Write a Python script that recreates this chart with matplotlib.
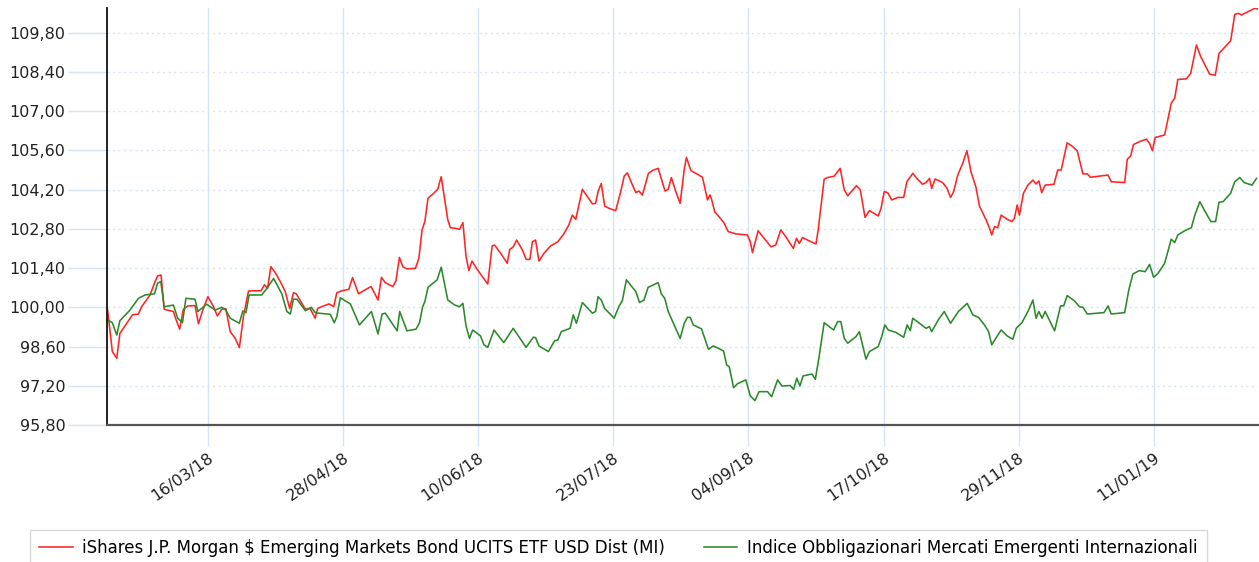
import numpy as np
import pandas as pd
import matplotlib
matplotlib.use("Agg")
import matplotlib.pyplot as plt
import matplotlib.dates as mdates
from matplotlib.ticker import FuncFormatter

# giorni dal 12/02/2018 e valori
start = pd.Timestamp("2018-02-12")

etf_days = [0.2, 1.7, 3.1, 4.1, 6.3, 8.1, 10, 11, 13.7, 15.3, 16.1, 17.2, 18.2, 21.1, 22.2, 23.1, 24.3, 25.7, 28, 29.1,
            30.4, 32.1, 33.9, 35.1, 36.5, 37.8, 39.2, 40.8, 42.1, 43.4, 45, 46.6, 49, 50.1, 51.1, 52.1, 53.5, 55.1, 56.7,
            58.1, 59.3, 60.2, 62, 63.1, 64.6, 66.2, 67, 68.9, 70.7, 72.1, 73.1, 74.7, 76.9, 78.1, 80, 81.6, 84, 86.2,
            87.3, 88.5, 90.9, 91.9, 93, 94.1, 95.4, 98.1, 99.2, 100.2, 101.1, 102.1, 103.9, 105.2, 106.3, 107.1, 108.4,
            109.2, 110.8, 112.1, 113.2, 114.2, 115.1, 116.1, 117.7,
            118.8, 121.1, 122.5, 123.3, 125.2, 127.3, 128.1, 129.1, 130.3, 132.1, 133.3, 134.5, 135.3, 136.3, 137.4,
            139, 141.1, 143.4, 145.3, 146.9, 148, 149.1, 151.2, 152.8, 154.4, 155.4, 156.2, 157.2, 158.3, 159.7, 161.8,
            163.4, 164.5, 165.5, 166.8, 168.2, 169.2, 170.3, 172.2, 173.5, 175.3, 177.5, 178.5, 179.5, 180.9, 182.3,
            183.6, 184.3, 185.7, 187.6, 189.4, 191, 191.8, 192.3, 193.3, 194.7, 196.3, 197.6, 200, 203.7, 204.6, 205.3,
            207.1, 209, 211.2, 212.7, 214.3, 215.9, 218.3, 219.3, 220.2, 221.2, 222.8, 225.5, 226.2, 228.1, 229.2,
            231.3, 233.2, 234.5, 235.6, 238.4, 239.6,
            241.1, 242.5, 244, 245.3, 246.2, 247.2, 248.3, 249.6, 251.5, 253.4, 254.4, 256.3, 257.8, 259.4, 260.5,
            261.6, 262.3, 263.4, 265.8, 267.2, 268.3, 269.3, 270.6, 272.2, 273.5, 274.8, 276.4, 277.5, 279.6, 280.7,
            281.4, 282.3, 283.3, 284.4, 286.3, 287.8, 288.6, 289.5, 290.2, 291.5, 292.9, 294.5, 295.5, 296.4, 297.3,
            298.4, 301.2, 302.4, 303.5, 305.4, 307.2, 308.6, 310.4, 311.8, 312.8, 318.4, 319.4, 323.7, 324.5, 325.6,
            326.5, 328.4, 330.6, 331.6, 332.5, 333.4, 336.4, 338.5, 339.6, 340.6, 343.3, 344.7, 346.5, 347.9, 350.7,
            352.5, 353.7, 355, 357.4, 358.7, 359.8, 360.8, 363.5, 365.1, 366]
etf_vals = [99.90, 98.42, 98.18, 99.07, 99.43, 99.73, 99.76, 100.02, 100.44, 100.92, 101.12, 101.15, 99.93, 99.85,
            99.49, 99.22, 99.93, 100.05, 100.06, 99.41, 99.88, 100.38, 100.02, 99.69, 99.93, 99.95, 99.13, 98.89, 98.56,
            99.67, 100.58, 100.59, 100.59, 100.80, 100.68, 101.45, 101.24, 100.92, 100.56, 99.96, 100.52, 100.48,
            100.14, 99.93, 99.96, 99.61, 99.96, 100.05, 100.12, 100.02, 100.52, 100.59, 100.64, 101.06, 100.48, 100.59,
            100.74, 100.26, 101.07, 100.88, 100.74, 100.94, 101.78, 101.45, 101.37, 101.39, 101.75, 102.76, 103.06,
            103.89, 104.07, 104.21, 104.66, 104.07, 103.12, 102.84, 102.82, 102.78, 103.02, 101.81, 101.31, 101.65,
            101.36,
            101.19, 100.83, 102.19, 102.22, 101.93, 101.57, 102.07, 102.14, 102.40, 102.05, 101.71, 101.71, 102.34,
            102.40, 101.65, 101.93, 102.19, 102.34, 102.62, 102.94, 103.29, 103.14, 104.21, 103.95, 103.69, 103.71,
            104.13, 104.42, 103.61, 103.53, 103.45, 104.13, 104.68, 104.80, 104.45, 104.09, 104.15, 104.00, 104.78,
            104.88, 104.96, 104.15, 104.21, 104.63, 104.13, 103.71, 104.92, 105.35, 104.88, 104.76, 104.64, 103.83,
            104.01, 103.85, 103.41, 103.23, 103.00, 102.70, 102.62, 102.58, 102.34, 101.95, 102.73, 102.46, 102.16,
            102.22, 102.76, 102.52, 102.10, 102.46, 102.28, 102.49, 102.40, 102.26, 102.76, 104.57, 104.63, 104.68,
            104.96, 104.19, 103.98, 104.34, 104.19,
            103.21, 103.45, 103.35, 103.26, 103.53, 104.13, 104.09, 103.83, 103.92, 103.92, 104.48, 104.78, 104.57,
            104.39, 104.45, 104.60, 104.24, 104.58, 104.45, 104.24, 103.92, 104.13, 104.72, 105.14, 105.59, 104.84,
            104.28, 103.61, 103.12, 102.82, 102.58, 102.88, 102.84, 103.29, 103.14, 103.06, 103.17, 103.65, 103.29,
            104.07, 104.36, 104.54, 104.40, 104.51, 104.09, 104.36, 104.39, 104.90, 104.90, 105.87, 105.73, 105.58,
            104.76, 104.76, 104.64, 104.72, 104.48, 104.45, 105.28, 105.40, 105.81, 105.91, 106.00, 105.85, 105.59,
            106.06, 106.15, 107.28, 107.46, 108.13, 108.15, 108.35, 109.36, 108.94, 108.32, 108.28, 109.06, 109.22,
            109.51, 110.45, 110.49, 110.43, 110.58, 110.67, 110.64]

idx_days = [0.2, 1.7, 3.1, 4.1, 7.3, 10, 12.1, 15.1, 16.1, 17.1, 18.2, 21.1, 22.5, 24, 25.1, 28, 28.9, 31.7, 34.4,
            36.5, 37.8, 39.2, 42.1, 43.2, 44.2, 45.2, 49.2, 50.9, 53, 55.6, 57.2, 58.3, 59.3, 60.4, 63.1, 65, 66.2,
            67.3, 71, 72.3, 73.1, 74.2, 77.4, 80.3, 84.1, 86.2, 87.5, 88.5, 92.3, 93.1, 95.4, 98.3, 99.4, 100.4, 101.1,
            102.1, 105, 106.3, 108.4, 110.6, 112.1, 113.2, 114.2, 115.3, 116.3,
            118.8, 119.9, 121.1, 123.1, 126.2, 129.2, 133.3, 135.6, 136.3, 137.4, 140.4, 142.4, 143.4, 144.5, 147.3,
            148.3, 149.3, 151.2, 154.4, 155.4, 156.2, 157.2, 158.3, 161.3, 162.9, 163.9, 165.2, 168.2, 169.4, 170.8,
            172.1, 175.3, 176.3, 177.4, 178.5, 182.3, 183.6, 184.6, 185.5, 186.5, 189.1, 191.3, 192.8, 194.4, 196.1,
            197.1, 197.9, 199.3, 200.5, 203.2, 204.6, 206.1, 207.4, 210.1, 211.4, 213.3, 214.7, 217.3, 218.4, 219.4,
            220.4, 221.4, 224.2, 225.3, 226.5, 228.1, 231.1, 232.4, 233.4, 234.5, 235.6, 238.2, 239.3,
            241.4, 242.5, 245.3, 246.4, 247.4, 248.5, 251, 252.3, 253.4, 254.5, 255.5, 256.3, 258.4, 260.5, 261.6,
            262.3, 264.4, 266.3, 268.3, 270.8, 273.6, 275.4, 277.2, 279.1, 280.4, 281.4, 282.5, 284.4, 286.3, 288.1,
            289.2, 289.7, 291, 292.9, 294.5, 295.5, 296.4, 297.4, 298.4, 301.4, 303.3, 304.3, 305.4, 307.7, 309.3,
            310.4, 311.8, 317.1, 318.4, 319.4, 323.7, 325, 326.3, 328.4, 330.2, 331.6, 332.9, 334.3, 336.4, 337.7,
            338.5, 339.6, 340.6, 342.6, 344.9, 346, 347.6, 349.1, 351.1, 352.6, 353.7, 355, 357.4, 358.7, 360.3,
            361.7, 364.2, 365.6]
idx_vals = [99.55, 99.45, 99.01, 99.52, 99.90, 100.32, 100.44, 100.48, 100.86, 100.92, 100.02, 100.08, 99.61, 99.45,
            100.32, 100.29, 99.85, 100.11, 99.90, 100.00, 99.90, 99.61, 99.43, 99.87, 99.81, 100.44, 100.44, 100.68,
            101.03, 100.48, 99.85, 99.76, 100.29, 100.29, 99.88, 100.00, 99.81, 99.79, 99.75, 99.45, 99.67, 100.34,
            100.12, 99.37, 99.85, 99.05, 99.76, 99.79, 99.16, 99.85, 99.16, 99.22, 99.45, 100.02, 100.20, 100.71,
            100.98, 101.43, 100.26, 100.08, 100.02, 100.14, 99.33, 98.89, 99.19,
            98.98, 98.66, 98.57, 99.19, 98.74, 99.25, 98.57, 98.93, 98.92, 98.62, 98.42, 98.81, 98.83, 99.13, 99.25,
            99.73, 99.43, 100.17, 99.79, 99.85, 100.38, 100.26, 99.96, 99.61, 100.05, 100.23, 100.98, 100.56, 100.17,
            100.26, 100.71, 100.88, 100.48, 100.32, 99.85, 98.89, 99.43, 99.64, 99.64, 99.37, 99.23, 98.50, 98.62,
            98.54, 98.44, 97.94, 97.88, 97.13, 97.27, 97.41, 96.84, 96.67, 96.99, 96.99, 96.81, 97.41, 97.19, 97.21,
            97.07, 97.47, 97.19, 97.55, 97.62, 97.43, 98.24, 99.45, 99.19, 99.49, 99.49, 98.89, 98.72, 98.95, 99.13,
            98.15, 98.42, 98.60, 98.95, 99.37, 99.19, 99.10, 99.01, 98.93, 99.37, 99.17, 99.61, 99.43, 99.25, 99.31,
            99.13, 99.55, 99.85, 99.43, 99.85, 100.14, 99.73, 99.64, 99.37, 99.13, 98.66, 98.86, 99.19, 98.98, 98.86,
            99.25, 99.31, 99.45, 99.85, 100.26, 99.61, 99.85, 99.61, 99.85, 99.16, 100.05, 100.05, 100.42, 100.23,
            100.02, 100.00, 99.76, 99.81, 100.05, 99.76, 99.81, 100.62, 101.19, 101.31, 101.27, 101.53, 101.07,
            101.21, 101.57, 102.10, 102.43, 102.31, 102.58, 102.72, 102.84, 103.29, 103.77, 103.45, 103.06, 103.06,
            103.75, 103.77, 104.07, 104.48, 104.63, 104.45, 104.36, 104.60]

tick_dates = ["2018-03-16", "2018-04-28", "2018-06-10", "2018-07-23", "2018-09-04", "2018-10-17", "2018-11-29", "2019-01-11"]
y_ticks = [95.8, 97.2, 98.6, 100.0, 101.4, 102.8, 104.2, 105.6, 107.0, 108.4, 109.8]

etf_label = "iShares J.P. Morgan $ Emerging Markets Bond UCITS ETF USD Dist (MI)"
idx_label = "Indice Obbligazionari Mercati Emergenti Internazionali"


def to_dates(days):
    return start + pd.to_timedelta(np.array(days), unit="D")


fig = plt.figure(figsize=(12.59, 5.62), dpi=100)
# area del grafico: x 107..1257 px, y 8..425 px
ax = fig.add_axes([107 / 1259, 137 / 562, 1150.7 / 1259, 417 / 562])

ax.plot(to_dates(etf_days), etf_vals, color="#ff2424", lw=1.15, label=etf_label)
ax.plot(to_dates(idx_days), idx_vals, color="#2a8a2a", lw=1.15, label=idx_label)

ax.set_xlim(start, start + pd.Timedelta(days=366.0))
ax.set_ylim(95.8, 110.68)

grid_col = "#d6e4f4"
ax.set_yticks(y_ticks)
ax.yaxis.set_major_formatter(FuncFormatter(lambda v, p: f"{v:.2f}".replace(".", ",")))
ax.set_xticks(pd.to_datetime(tick_dates))
ax.xaxis.set_major_formatter(mdates.DateFormatter("%d/%m/%y"))

ax.grid(axis="y", color=grid_col, linestyle=(0, (1.5, 2.5)), lw=1.0)
ax.grid(axis="x", color=grid_col, linestyle="-", lw=1.0)
for lab in ax.get_xticklabels():
    lab.set_rotation(35)
    lab.set_ha("right")
    lab.set_rotation_mode("anchor")

for s in ["top", "right"]:
    ax.spines[s].set_visible(False)
ax.spines["left"].set_color("#111")
ax.spines["left"].set_linewidth(1.3)
ax.spines["bottom"].set_color("#555")
ax.spines["bottom"].set_linewidth(1.6)

leg = fig.legend(loc="upper left", bbox_to_anchor=(30 / 1259, -0.2, 1177 / 1259, 0.2 + 32 / 562), mode="expand",
                 ncol=2, fontsize=12, frameon=True, fancybox=False, edgecolor="#d0d0d0", handlelength=2.0,
                 handletextpad=0.6, borderpad=0.55, borderaxespad=0)
leg.get_frame().set_linewidth(1.0)

# tacche chiare come la griglia
ax.xaxis.set_tick_params(which="major", length=15, width=1.0, color=grid_col, pad=3,
                         labelsize=11.5, labelcolor="#222")
ax.yaxis.set_tick_params(which="major", length=28, width=1.0, color=grid_col, pad=2,
                         labelsize=11.5, labelcolor="#222")

fig.savefig("out.png", dpi=100)
